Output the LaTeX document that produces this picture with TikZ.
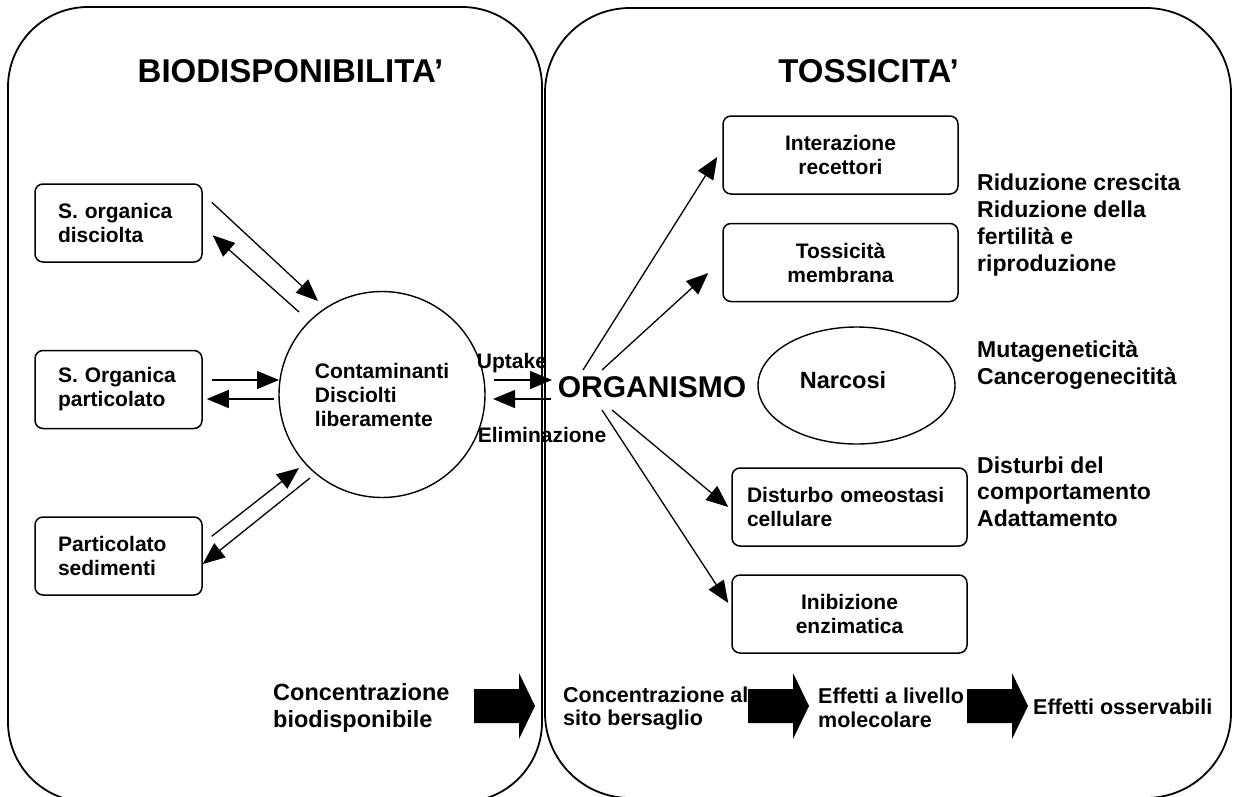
\documentclass[tikz,border=0pt]{standalone}
\usepackage{fontspec}
\setmainfont{Liberation Sans}
\usetikzlibrary{arrows.meta,calc,shapes.geometric}

\begin{document}
\begin{tikzpicture}[x=1pt,y=-1pt,
  panel/.style={draw, line width=1.8pt, inner sep=0pt},
  title/.style={font=\fontsize{33}{37}\selectfont\bfseries, inner sep=0pt},
  agentbox/.style={draw, rounded corners=8pt, line width=1.5pt, minimum height=78pt,
    font=\fontsize{21}{24}\selectfont\bfseries},
  lbox/.style={agentbox, minimum width=167pt, text width=121pt, inner xsep=23pt, align=left},
  rbox/.style={agentbox, minimum width=235pt, align=center},
  effect/.style={anchor=west, align=left, inner sep=0pt,
    font=\fontsize{23}{26.7}\selectfont\bfseries},
  stage/.style={anchor=west, align=left, inner sep=0pt,
    font=\fontsize{21.5}{23.5}\selectfont\bfseries},
  lbl/.style={inner sep=0pt, font=\fontsize{21}{24}\selectfont\bfseries},
  conn/.style={line width=1.3pt, -{Triangle[length=22pt,width=18pt]}},
  blockarrow/.pic={\fill (0,0) -- (45,0) -- (45,-16) -- (61,17) -- (45,50) -- (45,34) -- (0,34) -- cycle;}
]
\useasboundingbox (0,0) rectangle (1239,796);
\fill[white] (0,0) rectangle (1239,796);

% the two panels
\node[panel, rounded corners=80pt, minimum width=534pt, minimum height=795pt] (bio) at (275,404.5) {};
\node[panel, rounded corners=85pt, minimum width=686pt, minimum height=790pt] (tox) at (888,403) {};

\node[title] (titbio) at (290.5,71) {BIODISPONIBILITA’};
\node[title] (tittox) at (868.5,71) {TOSSICITA’};

% bioavailability side
\node[lbox] (b1) at (118.5,223) {S. organica\\disciolta};
\node[lbox] (b2) at (118.5,389.5) {S. Organica\\particolato};
\node[lbox] (b3) at (118.5,556) {Particolato\\sedimenti};

\node[draw, circle, line width=1.4pt, minimum size=206pt, inner sep=0pt, align=left,
  font=\fontsize{21}{24}\selectfont\bfseries] (c) at (382,394.5) {Contaminanti\\Disciolti\\liberamente};

\draw[conn] ($(b1.north east)+(9,19)$) -- ($(c.center)+(-64,-93.5)$);
\draw[conn] ($(c.center)+(-83,-82.5)$) -- ($(b1.north east)+(10,52)$);
\draw[conn] ($(b2.east)+(9,-9.5)$) -- ($(c.center)+(-103,-14.5)$);
\draw[conn] ($(c.center)+(-108,4.5)$) -- ($(b2.east)+(4,9.5)$);
\draw[conn] ($(b3.north east)+(9,20)$) -- ($(c.center)+(-83,73.5)$);
\draw[conn] ($(c.center)+(-72,83.5)$) -- ($(b3.east)+(0,8)$);

% organism
\node[font=\fontsize{30}{34}\selectfont\bfseries, inner sep=0pt] (org) at (652,387) {ORGANISMO};

\draw[conn] ($(c.center)+(112,-14.5)$) -- ($(org.center)+(-100,-7)$);
\draw[conn] ($(org.center)+(-101,12)$) -- ($(c.center)+(111,4.5)$);
\node[lbl] (upt) at (512,363) {Uptake};
\node[lbl] (elim) at (542,435) {Eliminazione};

% toxicity side
\node[rbox] (i1) at (840.5,155) {Interazione\\recettori};
\node[rbox] (i2) at (840.5,262.5) {Tossicità\\membrana};
\node[draw, ellipse, line width=1.4pt, minimum width=197pt, minimum height=117pt] (narc) at (856.5,385.5) {};
\node[inner sep=0pt, font=\fontsize{23.5}{27}\selectfont\bfseries] (narctxt) at (843,380) {Narcosi};
\node[rbox, text width=205pt, inner xsep=15pt, align=left] (i3) at (849.5,507) {Disturbo omeostasi\\cellulare};
\node[rbox] (i4) at (849.5,614) {Inibizione\\enzimatica};

\draw[conn] ($(org.center)+(-69,-17)$) -- ($(i1.west)+(-5,2)$);
\draw[conn] ($(org.center)+(-50,-17)$) -- ($(i2.west)+(-14,10.5)$);
\draw[conn] ($(org.center)+(-40,23)$) -- ($(i3.west)+(-3,0)$);
\draw[conn] ($(org.center)+(-50,23)$) -- ($(i4.west)+(-3,-11)$);

\node[effect] (eff1) at (977,225) {Riduzione crescita\\Riduzione della\\fertilità e\\riproduzione};
\node[effect] (eff2) at (977,365) {Mutageneticità\\Cancerogenecitità};
\node[effect] (eff3) at (977,491.5) {Disturbi del\\comportamento\\Adattamento};

% chain along the bottom
\node[anchor=west, align=left, inner sep=0pt, font=\fontsize{23.5}{27}\selectfont\bfseries]
  (s1) at (273,707.5) {Concentrazione\\biodisponibile};
\node[stage] (s2) at (563,708.5) {Concentrazione al\\sito bersaglio};
\node[stage] (s3) at (818,708) {Effetti a livello\\molecolare};
\node[stage] (s4) at (1033,707) {Effetti osservabili};

\pic at (474,689) {blockarrow};
\pic at (748,689) {blockarrow};
\pic at (967,689) {blockarrow};
\end{tikzpicture}
\end{document}
